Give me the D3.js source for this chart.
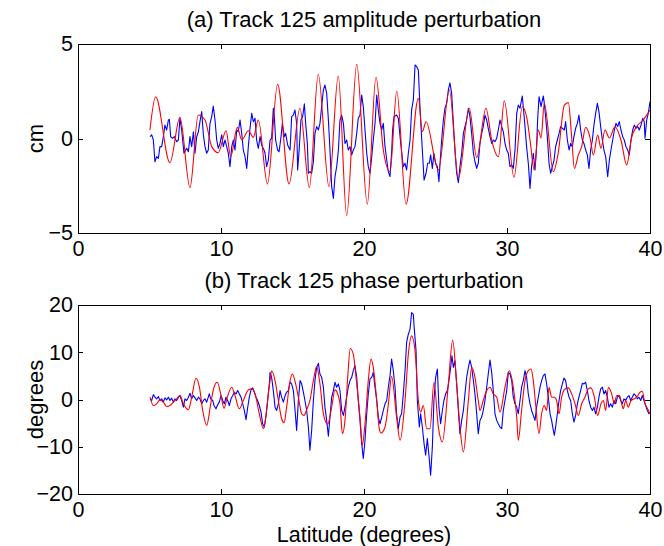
<!DOCTYPE html>
<html><head><meta charset="utf-8">
<script src="https://cdn.jsdelivr.net/npm/d3@7"></script>
<style>
body{margin:0;background:#fff}
svg{display:block}
text{font-family:"Liberation Sans",Arial,Helvetica,sans-serif;fill:#000}
</style>
</head><body>
<svg id="c" width="664" height="546"></svg>
<script>
// ---------- data ----------
const xTicks = [0, 10, 20, 30, 40];
const ampTicks = [-5, 0, 5];
const phaseTicks = [-20, -10, 0, 10, 20];
const titles = ["(a) Track 125 amplitude perturbation", "(b) Track 125 phase perturbation"];
const yLabels = ["cm", "degrees"];
const xLabel = "Latitude (degrees)";

// red: model, amplitude (cm) vs latitude
const ampModel = [[5.03,0.45],[5.43,2.21],[6.43,-1.28],[7.13,1.12],[7.83,-2.6],[8.41,1.24],[8.88,0.98],[9.35,-0.43],[9.81,-0.75],[10.35,0.41],[10.68,-0.96],[11.14,0.59],[11.45,-0.08],[11.91,0.41],[12.26,0.06],[12.61,0.98],[13.25,-2.41],[13.96,2.87],[14.76,-2.41],[15.52,1.6],[16.18,-2.6],[16.8,3.4],[17.55,-2.55],[18.2,3.31],[18.79,-4.08],[19.49,3.92],[20.23,-3.47],[20.84,3.24],[21.35,-0.61],[21.82,-1.76],[22.29,2.51],[22.94,-3.48],[23.8,2.13],[24.08,0.36],[24.34,0.89],[25.2,-1.67],[25.97,2.57],[26.6,-2.11],[27.36,1.6],[27.88,-1.0],[28.53,1.6],[28.93,-0.08],[29.4,-0.96],[29.81,2.0],[30.49,-2.05],[31.07,1.68],[31.38,1.12],[31.61,-0.08],[31.91,-1.67],[32.19,0.45],[32.38,0.03],[32.61,1.86],[33.24,-1.76],[33.58,-0.78],[34.01,1.77],[34.29,1.9],[34.52,0.1],[34.71,-1.58],[34.99,-0.87],[35.22,-0.43],[35.5,0.59],[35.8,0.07],[36.04,-0.87],[36.34,0.18],[36.57,-0.52],[36.85,0.45],[37.16,0.03],[37.55,0.62],[37.97,-0.08],[38.37,-1.4],[38.72,0.07],[39.07,0.64],[39.53,0.98],[39.77,1.24],[40.0,1.5]];

// blue: observed, amplitude (cm)
const ampObs = [[5.04,0.10],[5.15,0.19],[5.27,-0.08],[5.38,-1.23],[5.50,-0.96],[5.62,-1.05],[5.73,-0.43],[5.85,-0.43],[5.97,0.10],[6.08,0.71],[6.20,0.45],[6.32,0.98],[6.39,1.01],[6.48,0.10],[6.60,0.01],[6.74,0.10],[6.90,-0.17],[7.02,-0.08],[7.13,1.07],[7.25,0.45],[7.41,-0.78],[7.60,-0.52],[7.72,-0.70],[7.83,0.10],[7.95,-0.43],[8.07,0.36],[8.18,-0.78],[8.30,0.10],[8.42,0.36],[8.53,0.89],[8.65,1.42],[8.77,0.19],[8.88,-0.43],[9.00,-0.78],[9.11,-0.61],[9.23,0.80],[9.35,1.16],[9.46,1.72],[9.58,0.98],[9.70,-0.08],[9.81,-0.52],[9.93,-0.26],[10.05,0.19],[10.16,-0.43],[10.28,-0.08],[10.40,-0.43],[10.51,-0.78],[10.63,-1.49],[10.75,-0.43],[10.86,-0.08],[10.98,-0.61],[11.10,0.45],[11.21,0.36],[11.33,0.98],[11.45,0.27],[11.56,-0.61],[11.68,-0.96],[11.80,-1.58],[11.91,-0.43],[12.03,0.54],[12.15,1.33],[12.26,0.89],[12.38,1.07],[12.49,-0.08],[12.61,-0.52],[12.73,0.10],[12.84,-0.34],[13.01,-0.61],
[13.08,-0.78],[13.19,-1.49],[13.31,-1.14],[13.43,-0.08],[13.54,0.01],[13.66,1.60],[13.73,1.16],[13.82,-0.08],[13.96,-0.61],[14.06,-0.70],[14.20,0.10],[14.29,0.80],[14.43,0.10],[14.52,0.27],[14.66,-0.34],[14.83,-0.61],[14.94,1.16],[15.06,1.24],[15.17,1.51],[15.29,0.80],[15.36,-1.67],[15.48,-0.43],[15.59,0.98],[15.71,1.16],[15.83,1.83],[15.92,0.80],[16.04,-0.26],[16.11,-1.84],[16.22,-1.75],[16.34,-1.84],[16.46,-1.23],[16.57,0.27],[16.69,0.63],[16.81,0.45],[16.92,0.80],[17.04,1.69],[17.16,2.57],[17.27,2.83],[17.39,2.39],[17.51,0.98],[17.62,-0.61],[17.74,-2.55],[17.86,-3.17],[17.97,-2.02],[18.09,-1.49],[18.21,-0.61],[18.32,0.98],[18.44,1.24],[18.56,0.80],[18.67,-0.26],[18.79,-0.08],[18.90,-0.61],[19.02,-0.43],[19.14,-0.87],[19.25,-0.61],[19.37,-0.43],[19.49,0.27],[19.60,1.07],[19.72,1.24],[19.84,2.30],[19.95,1.69],[20.07,0.45],[20.19,-0.78],[20.30,-1.49],[20.42,-1.84],[20.54,-0.96],[20.65,-0.08],[20.77,0.80],[20.89,2.30],[21.00,1.51],[21.12,0.80],[21.24,0.45],[21.35,0.80],[21.47,-0.43],[21.59,-1.14],[21.70,-1.75],[21.82,-2.02],
[21.94,-0.61],[22.00,0.45],[22.10,1.16],[22.28,1.24],[22.40,1.07],[22.52,0.10],[22.63,-0.70],[22.75,-1.49],[22.87,-1.31],[22.98,-1.67],[23.10,-0.78],[23.22,-0.08],[23.33,1.51],[23.45,2.04],[23.57,3.89],[23.68,3.80],[23.80,3.62],[23.87,2.39],[23.96,0.98],[24.08,-0.61],[24.20,-2.20],[24.34,-1.84],[24.45,-1.31],[24.57,-1.31],[24.66,-0.87],[24.78,-1.58],[24.89,-0.78],[25.01,-1.31],[25.13,-1.49],[25.24,-2.28],[25.31,-1.40],[25.43,-0.08],[25.55,0.98],[25.66,1.60],[25.78,1.86],[25.90,2.57],[26.01,2.95],[26.13,2.39],[26.25,0.80],[26.36,-0.61],[26.48,-1.84],[26.60,-2.34],[26.71,-1.49],[26.83,-0.78],[26.95,0.27],[27.06,0.63],[27.18,0.98],[27.30,1.60],[27.41,1.16],[27.53,0.27],[27.65,-0.78],[27.76,-1.23],[27.88,-1.58],[27.99,-1.31],[28.11,-0.26],[28.23,0.27],[28.34,0.63],[28.46,1.24],[28.58,0.98],[28.69,0.54],[28.81,0.10],[28.93,-0.26],[29.04,-0.08],[29.16,-0.17],[29.28,0.01],[29.39,0.45],[29.51,0.98],[29.63,0.63],[29.74,0.36],[29.86,-0.26],[29.98,-0.61],[30.09,-0.78],[30.21,-1.49],[30.33,-1.40],[30.44,-1.58],[30.56,-0.61],[30.68,1.33],[30.79,1.77],[30.91,1.60],
[31.07,2.25],[31.26,0.63],[31.37,-0.43],[31.49,-1.31],[31.61,-2.64],[31.72,-1.49],[31.84,-0.78],[31.96,-1.67],[32.07,-0.43],[32.14,0.98],[32.24,2.21],[32.38,1.69],[32.54,2.25],[32.61,1.86],[32.70,1.16],[32.82,0.10],[32.94,-1.31],[33.05,-1.84],[33.17,-1.49],[33.29,-1.14],[33.40,-0.43],[33.52,-0.08],[33.64,0.27],[33.75,0.63],[33.87,0.54],[34.01,0.45],[34.10,0.89],[34.22,-0.08],[34.34,-0.61],[34.45,-0.26],[34.57,-0.43],[34.68,0.10],[34.80,0.54],[34.92,0.80],[35.03,1.24],[35.15,0.45],[35.27,-0.08],[35.38,-0.26],[35.50,-0.61],[35.62,-0.87],[35.73,-1.58],[35.85,-0.61],[35.97,-0.08],[36.08,0.71],[36.20,1.33],[36.32,1.86],[36.43,1.42],[36.55,0.63],[36.67,-0.08],[36.78,-0.61],[36.90,-0.96],[37.04,-2.02],[37.16,-1.14],[37.27,-0.61],[37.39,-0.08],[37.51,0.45],[37.62,0.80],[37.74,0.63],[37.85,0.89],[37.97,0.45],[38.09,0.10],[38.20,-0.08],[38.32,-0.43],[38.44,-0.61],[38.55,-0.87],[38.67,-0.08],[38.79,0.45],[38.90,0.71],[39.02,0.54],[39.14,0.63],[39.25,0.45],[39.37,0.71],[39.49,1.07],[39.60,0.89],[39.65,0.01],[39.77,0.98],[39.88,1.33],[40.0,1.95]];

// red: model, phase (degrees)
const phaseModel = [[5.04,0.49],[5.27,-1.27],[5.50,-0.91],[5.73,-0.07],[5.97,-0.56],[6.20,-1.48],[6.43,-1.27],[6.67,-0.56],[6.90,0.14],[7.13,0.84],[7.37,-0.91],[7.72,-2.18],[7.95,0.49],[8.25,4.49],[8.49,2.60],[8.72,-2.32],[9.00,-5.48],[9.28,-0.91],[9.51,2.60],[9.74,3.65],[9.98,1.19],[10.21,-1.83],[10.44,0.49],[10.75,2.60],[10.98,0.84],[11.28,-1.97],[11.56,-0.21],[11.91,2.03],[12.15,2.24],[12.38,1.19],[12.68,-3.02],[12.96,-6.18],[13.19,-2.32],
[13.31,1.19],[13.43,4.00],[13.54,6.10],[13.78,4.00],[14.01,-0.21],[14.24,-4.07],[14.41,-4.91],[14.59,-1.62],[14.83,4.00],[14.99,5.40],[15.22,3.30],[15.41,0.49],[15.64,-3.02],[15.80,-3.37],[15.99,-2.18],[16.22,-0.21],[16.46,4.00],[16.69,6.95],[16.92,3.30],[17.16,-3.02],[17.46,-5.27],[17.74,-1.62],[17.97,2.03],[18.16,1.19],[18.32,-0.91],[18.49,-7.23],[18.67,-4.42],[18.86,4.70],[19.04,10.80],[19.25,9.61],[19.49,3.30],[19.72,-3.72],[19.88,-9.69],[20.07,-5.13],[20.30,4.00],[20.49,8.56],[20.65,6.81],[20.89,-0.21],[21.05,-5.83],[21.19,-7.09],[21.47,-5.83],[21.70,-1.12],[21.93,4.84],
[22.28,-3.72],[22.52,-8.63],[22.87,-0.21],[23.10,9.61],[23.33,13.47],[23.57,10.31],[23.80,-0.21],[23.96,-2.67],[24.15,-1.27],[24.38,-6.18],[24.62,-6.18],[24.89,3.65],[25.20,-5.83],[25.48,-8.98],[25.90,3.30],[26.20,12.56],[26.48,3.30],[26.71,-5.83],[26.95,-11.09],[27.30,-0.21],[27.53,6.81],[27.76,4.70],[27.99,-0.21],[28.11,-2.32],[28.34,-0.21],[28.58,1.89],[28.81,2.60],[29.04,1.19],[29.28,0.49],[29.51,-2.67],[29.86,2.60],[30.16,6.10],[30.44,2.60],[30.68,-3.72],
[30.79,-8.63],[31.02,-2.32],[31.26,4.00],[31.49,6.10],[31.68,6.45],[31.84,4.00],[32.00,-0.91],[32.24,-7.23],[32.42,-3.02],[32.61,-1.27],[32.77,-2.32],[32.94,2.60],[33.12,0.49],[33.31,0.49],[33.47,-0.21],[33.64,-3.02],[33.82,0.49],[34.06,2.24],[34.29,2.45],[34.52,1.19],[34.76,-0.91],[34.99,-3.37],[35.22,-0.91],[35.45,0.49],[35.69,2.24],[35.87,2.45],[36.11,0.49],[36.34,-3.37],[36.57,-0.91],[36.74,-0.21],[36.90,-2.32],[37.09,2.60],[37.32,1.19],[37.51,-0.91],[37.67,0.84],[37.86,0.84],[38.02,-0.91],[38.13,-1.97],[38.30,-0.21],[38.48,-1.62],[38.67,-0.21],[38.90,0.14],[39.07,0.49],[39.30,1.54],[39.46,1.75],[39.65,-0.91],[39.83,-1.97],[40.0,-3.02]];

// blue: observed, phase (degrees)
const phaseObs = [[5.04,0.14],[5.15,-0.21],[5.27,1.05],[5.38,0.49],[5.50,0.14],[5.62,0.63],[5.73,-0.21],[5.85,0.14],[5.97,-0.56],[6.08,0.35],[6.20,-0.07],[6.32,0.49],[6.43,-0.21],[6.55,0.28],[6.67,-0.56],[6.78,0.14],[6.90,-0.21],[7.02,0.49],[7.13,0.84],[7.25,-0.21],[7.37,-1.62],[7.48,0.14],[7.60,-0.21],[7.72,0.49],[7.83,1.33],[7.95,0.14],[8.07,0.84],[8.18,0.35],[8.30,-0.21],[8.42,0.49],[8.53,0.14],[8.65,-0.91],[8.77,-0.21],[8.88,0.14],[9.00,-0.56],[9.11,0.49],[9.18,1.19],[9.28,0.14],[9.42,-0.21],[9.51,-1.27],[9.65,-1.97],[9.74,-1.27],[9.88,-0.56],[10.00,0.84],[10.12,-0.21],[10.23,-0.91],[10.35,0.49],[10.47,-0.21],[10.58,-1.27],[10.70,0.14],[10.82,0.84],[10.93,1.54],[11.05,1.19],[11.17,1.89],[11.28,1.19],[11.40,0.49],[11.52,-0.91],[11.63,-2.32],[11.75,-4.28],[11.87,-1.62],[11.98,0.49],[12.10,2.03],[12.22,2.45],[12.33,1.54],[12.45,0.49],[12.56,-0.21],[12.68,-1.27],[12.80,-2.67],[12.91,-5.13],[13.03,-5.83],[13.15,-3.37],[13.26,-0.21],
[13.38,3.30],[13.43,5.75],[13.54,4.70],[13.66,1.89],[13.78,-1.62],[13.89,-2.32],[14.01,-0.91],[14.13,1.89],[14.24,0.49],[14.36,-0.56],[14.48,0.84],[14.59,1.54],[14.71,1.89],[14.83,3.65],[14.94,3.30],[15.06,1.89],[15.18,-2.32],[15.29,-6.53],[15.41,-0.21],[15.53,4.00],[15.64,3.30],[15.76,1.54],[15.87,-0.21],[15.99,-2.32],[16.11,-5.83],[16.22,-10.74],[16.34,-6.53],[16.46,-0.21],[16.57,4.00],[16.69,6.81],[16.81,7.65],[16.92,5.40],[17.04,4.70],[17.16,2.60],[17.27,-1.62],[17.39,-4.42],[17.51,-7.79],[17.62,-3.72],[17.74,0.49],[17.86,1.89],[17.97,3.65],[18.09,2.60],[18.21,3.30],[18.32,1.89],[18.44,-2.32],[18.56,-3.37],[18.67,-1.62],[18.79,0.49],[18.90,2.60],[19.02,4.00],[19.14,4.70],[19.25,6.10],[19.37,7.16],[19.49,4.70],[19.60,-0.21],[19.72,-4.42],[19.84,-9.34],[19.95,-12.49],[20.07,-8.63],[20.19,-3.02],[20.30,1.19],[20.42,4.35],[20.54,4.70],[20.65,5.75],[20.77,2.60],[20.89,-0.21],[21.00,-3.72],[21.12,-5.13],[21.24,-3.72],[21.35,-2.32],[21.47,-0.91],[21.59,-0.21],[21.70,2.60],[21.82,5.05],[21.93,8.56],
[22.05,6.10],[22.17,2.60],[22.28,-3.02],[22.40,-6.18],[22.52,-3.72],[22.63,-3.02],[22.75,1.19],[22.87,6.10],[22.98,12.07],[23.10,13.82],[23.22,14.88],[23.33,18.38],[23.45,18.03],[23.50,15.58],[23.64,10.31],[23.73,-0.21],[23.87,-5.83],[23.96,-3.02],[24.08,-5.83],[24.20,-9.34],[24.31,-11.79],[24.43,-8.28],[24.55,-12.14],[24.66,-16.0],[24.78,-10.04],[24.89,-0.21],[25.01,4.70],[25.13,6.45],[25.24,-1.62],[25.36,-5.13],[25.48,-2.32],[25.59,-0.21],[25.71,1.19],[25.83,1.89],[25.94,4.00],[26.06,6.81],[26.15,9.26],[26.25,6.81],[26.36,8.21],[26.48,3.30],[26.60,-2.32],[26.71,-7.23],[26.83,-4.42],[26.95,-2.32],[27.06,1.19],[27.18,4.70],[27.30,6.81],[27.41,8.35],[27.53,6.81],[27.65,4.00],[27.76,1.19],[27.88,-3.02],[27.99,-7.23],[28.11,-4.42],[28.23,-3.72],[28.34,-2.32],[28.46,-0.21],[28.58,2.60],[28.69,5.40],[28.81,8.35],[28.93,5.75],[29.04,1.89],[29.16,-3.02],[29.28,-4.42],[29.39,-5.13],[29.51,-5.83],[29.63,-6.18],[29.74,-2.32],[29.86,-0.21],[29.98,1.89],[30.09,5.75],[30.21,5.40],[30.33,4.00],[30.44,0.49],[30.56,-0.91],[30.68,-1.62],[30.79,-3.02],
[30.91,-0.21],[31.02,2.60],[31.14,4.00],[31.26,6.10],[31.37,4.70],[31.49,1.19],[31.61,-0.91],[31.72,-2.32],[31.84,-3.37],[31.96,-4.42],[32.07,-1.62],[32.19,0.49],[32.31,2.60],[32.42,4.00],[32.54,5.05],[32.66,5.40],[32.77,3.30],[32.89,0.49],[33.01,-3.02],[33.12,-4.42],[33.24,-6.53],[33.31,-7.58],[33.40,-5.83],[33.52,-3.02],[33.64,-0.21],[33.75,1.89],[33.87,3.30],[33.99,4.56],[34.10,4.00],[34.22,1.89],[34.34,0.49],[34.45,-0.21],[34.57,-3.02],[34.68,-4.77],[34.80,-3.37],[34.92,-0.91],[35.03,0.49],[35.15,1.89],[35.27,3.44],[35.38,3.30],[35.50,3.65],[35.62,1.89],[35.73,-0.21],[35.85,-1.62],[35.97,-2.32],[36.08,-1.62],[36.20,-3.02],[36.32,-1.62],[36.43,0.49],[36.55,2.24],[36.67,2.60],[36.78,1.19],[36.90,1.89],[37.02,0.49],[37.13,-1.62],[37.25,-0.91],[37.37,-1.62],[37.48,-0.21],[37.60,-0.91],[37.72,0.49],[37.83,0.84],[37.95,-0.21],[38.06,-0.91],[38.18,0.14],[38.30,-0.21],[38.41,0.49],[38.53,0.84],[38.65,-0.21],[38.76,0.49],[38.88,1.19],[39.00,0.84],[39.11,0.14],[39.23,0.49],[39.35,-0.21],[39.46,0.84],[39.58,-0.21],[39.70,-1.27],[39.81,-2.32],[39.93,-3.02],[40.0,-2.67]];

// ---------- drawing ----------
const FS = 22;      // titles and axis labels
const TFS = 21.5;   // tick labels
const svg = d3.select("#c");
const x = d3.scaleLinear().domain([0, 40]).range([78, 650]);

const panels = [
  { title: titles[0], ylabel: yLabels[0], ticks: ampTicks, model: ampModel, obs: ampObs,
    y: d3.scaleLinear().domain([-5, 5]).range([233, 44]), titleY: 27 },
  { title: titles[1], ylabel: yLabels[1], ticks: phaseTicks, model: phaseModel, obs: phaseObs,
    y: d3.scaleLinear().domain([-20, 20]).range([494, 305]), titleY: 288 }
];

panels.forEach((p, i) => {
  const g = svg.append("g");
  const [y0, y1] = p.y.range();
  const [x0, x1] = x.range();

  // data lines
  const lineObs = d3.line().x(d => x(d[0])).y(d => p.y(d[1]));
  const lineMod = d3.line().x(d => x(d[0])).y(d => p.y(d[1])).curve(d3.curveMonotoneX);
  g.append("path").datum(p.obs).attr("d", lineObs)
    .attr("fill", "none").attr("stroke", "#0000ff").attr("stroke-width", 1.1).attr("stroke-linejoin", "round");
  g.append("path").datum(p.model).attr("d", lineMod)
    .attr("fill", "none").attr("stroke", "#ff0000").attr("stroke-width", 1.1);

  // axes with inward ticks
  const axB = g.append("g").attr("transform", `translate(0,${y0})`)
    .call(d3.axisBottom(x).tickValues(xTicks).tickSizeInner(-5).tickSizeOuter(0).tickPadding(8));
  const axT = g.append("g").attr("transform", `translate(0,${y1})`)
    .call(d3.axisTop(x).tickValues(xTicks).tickSizeInner(-5).tickSizeOuter(0).tickFormat(""));
  const axL = g.append("g").attr("transform", `translate(${x0},0)`)
    .call(d3.axisLeft(p.y).tickValues(p.ticks).tickSizeInner(-5).tickSizeOuter(0).tickPadding(5));
  const axR = g.append("g").attr("transform", `translate(${x1},0)`)
    .call(d3.axisRight(p.y).tickValues(p.ticks).tickSizeInner(-5).tickSizeOuter(0).tickFormat(""));
  [axB, axT, axL, axR].forEach(a => {
    a.select(".domain").remove();
    a.selectAll("line").attr("stroke", "#000").attr("stroke-width", 1).attr("shape-rendering", "crispEdges");
    a.selectAll("text").attr("font-size", TFS).attr("font-family", '"Liberation Sans",Arial,sans-serif').attr("fill", "#000");
  });

  // box
  g.append("rect").attr("x", x0).attr("y", y1).attr("width", x1 - x0).attr("height", y0 - y1)
    .attr("fill", "none").attr("stroke", "#000").attr("stroke-width", 1).attr("shape-rendering", "crispEdges");

  // title
  g.append("text").attr("x", (x0 + x1) / 2).attr("y", p.titleY).attr("text-anchor", "middle")
    .attr("font-size", FS).text(p.title);

  // y label
  g.append("text").attr("transform", `translate(43,${(y0 + y1) / 2}) rotate(-90)`)
    .attr("text-anchor", "middle").attr("font-size", FS).text(p.ylabel);
});

svg.append("text").attr("x", 364).attr("y", 542).attr("text-anchor", "middle")
  .attr("font-size", 21.5).text(xLabel);
</script>
</body></html>
